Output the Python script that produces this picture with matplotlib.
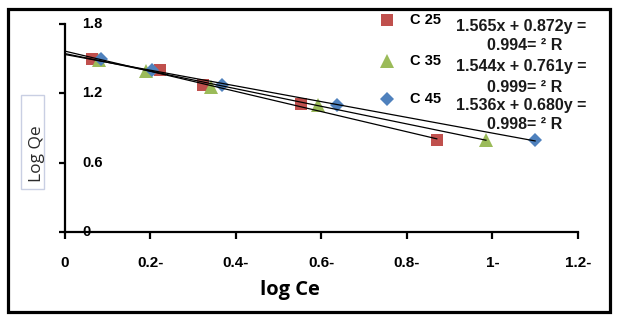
import numpy as np
import matplotlib
matplotlib.use("Agg")
import matplotlib.pyplot as plt
from matplotlib.patches import Rectangle

# data
x_25 = [0.063, 0.222, 0.323, 0.552, 0.870]
y_25 = [1.498, 1.400, 1.273, 1.108, 0.797]
x_35 = [0.080, 0.190, 0.342, 0.592, 0.985]
y_35 = [1.490, 1.390, 1.255, 1.100, 0.797]
x_45 = [0.084, 0.203, 0.367, 0.637, 1.100]
y_45 = [1.500, 1.400, 1.270, 1.100, 0.797]

labels = ["C 25", "C 35", "C 45"]
slopes = [-0.872, -0.761, -0.680]
intercepts = [1.565, 1.544, 1.536]
eq_line1 = ["1.565x + 0.872y =", "1.544x + 0.761y =", "1.536x + 0.680y ="]
eq_line2 = ["0.994= ² R", "0.999= ² R", "0.998= ² R"]

xticks = [0, 0.2, 0.4, 0.6, 0.8, 1.0, 1.2]
xticklabels = ["0", "0.2-", "0.4-", "0.6-", "0.8-", "1-", "1.2-"]
yticks = [0, 0.6, 1.2, 1.8]
yticklabels = ["0", "0.6", "1.2", "1.8"]

plt.rcParams['font.family'] = ['Liberation Sans', 'DejaVu Sans']

fig = plt.figure(figsize=(6.2, 3.19), dpi=100)
ax = fig.add_axes([0.1048, 0.2727, 0.8272, 0.6521])

colors = ['#C0504D', '#9BBB59', '#4F81BD']
markers = ['s', '^', 'D']
sizes = [9, 10, 7.5]
xs = [x_25, x_35, x_45]
ys = [y_25, y_35, y_45]

for i in range(3):
    ax.plot(xs[i], ys[i], linestyle='none', marker=markers[i], ms=sizes[i],
            color=colors[i], markeredgewidth=0, zorder=3 + i, clip_on=False)
    xl = np.array([0, max(xs[i])])
    ax.plot(xl, slopes[i] * xl + intercepts[i], color='black', lw=0.9, zorder=10)

ax.set_xlim(0, 1.2)
ax.set_ylim(0, 1.8)
for s in ['top', 'right']:
    ax.spines[s].set_visible(False)
ax.spines['left'].set_linewidth(1.6)
ax.spines['bottom'].set_linewidth(1.6)

ax.set_xticks(xticks)
ax.set_xticklabels(xticklabels, fontsize=11, fontweight='bold')
ax.tick_params(axis='x', direction='out', length=5, width=1.6, pad=12)
ax.set_yticks(yticks)
ax.set_yticklabels([])
ax.tick_params(axis='y', direction='out', length=4, width=1.6)
for v, t in zip(yticks, yticklabels):
    ax.text(0.033, v, t, transform=ax.get_yaxis_transform(), fontsize=10.5,
            fontweight='bold', ha='left', va='center')

fig.text(290 / 620, 1 - 290 / 319, "log Ce", fontsize=14.5, fontweight='bold',
         family=['Open Sans', 'DejaVu Sans'], ha='center', va='center')

# y label sits in a light box
fig.patches.append(Rectangle((21 / 620, 1 - 189 / 319), 23 / 620, 94 / 319, fc='white',
                             ec='#c9cfe3', lw=1, transform=fig.transFigure))
fig.text(37 / 620, 1 - 154 / 319, "Log Qe", rotation=90, fontsize=12.5,
         family=['Open Sans', 'DejaVu Sans'], ha='center', va='center', color='#2a2a2a')

# legend-like labels
leg_y = [20, 61, 99]
for i in range(3):
    yy = 1 - leg_y[i] / 319
    fig.lines.append(plt.Line2D([387 / 620], [yy], marker=markers[i], ms=sizes[i],
                                color=colors[i], markeredgewidth=0,
                                transform=fig.transFigure, linestyle='none'))
    fig.text(410 / 620, yy, labels[i], fontsize=10.5, fontweight='bold', ha='left', va='center')
    fig.text(521 / 620, 1 - (leg_y[i] + 6) / 319, eq_line1[i], fontsize=11.5,
             fontweight='bold', ha='center', va='center', color='#1a1a1a')
    fig.text(525 / 620, 1 - (leg_y[i] + 26) / 319, eq_line2[i], fontsize=11.5,
             fontweight='bold', ha='center', va='center', color='#1a1a1a')

fig.patches.append(Rectangle((8 / 620, 7 / 319), 602 / 620, 303 / 319, fill=False,
                             ec='black', lw=2.3, transform=fig.transFigure))

fig.savefig('out.png', dpi=100)
